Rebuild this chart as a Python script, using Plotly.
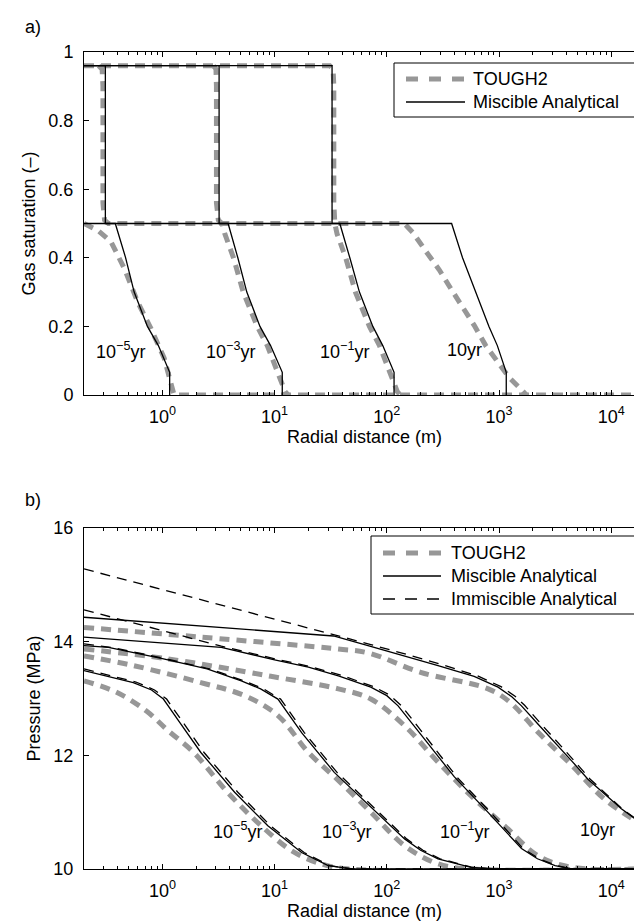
import numpy as np
import plotly.graph_objects as go

# ---------------- data: panel a) gas saturation ----------------
# Miscible analytical (black solid)
sat_r_mis_1e5 = [0.2, 0.31, 0.31, 0.38, 0.47, 0.56, 0.735, 0.92, 1.16, 1.16]
sat_s_mis_1e5 = [0.96, 0.96, 0.5, 0.5, 0.4, 0.3, 0.2, 0.144, 0.066, 0.0]
sat_r_mis_1e3 = [0.2, 3.2, 3.2, 3.85, 4.7, 5.65, 7.4, 9.2, 11.7, 11.7]
sat_s_mis_1e3 = [0.96, 0.96, 0.5, 0.5, 0.4, 0.3, 0.2, 0.144, 0.066, 0.0]
sat_r_mis_1e1 = [0.2, 32.5, 32.5, 38.1, 46.8, 57, 75, 92, 116, 116]
sat_s_mis_1e1 = [0.96, 0.96, 0.5, 0.5, 0.4, 0.3, 0.2, 0.144, 0.066, 0.0]
sat_r_mis_10 = [0.2, 378, 473, 620, 813, 966, 1160, 1160]
sat_s_mis_10 = [0.5, 0.5, 0.4, 0.3, 0.2, 0.144, 0.066, 0.0]

# TOUGH2 (grey dashed)
sat_r_t2_1e5 = [0.2, 0.265, 0.348, 0.457, 0.6, 0.787, 1.035, 1.185, 1.27, 20000]
sat_s_t2_1e5 = [0.5, 0.48, 0.447, 0.369, 0.272, 0.195, 0.108, 0.04, 0.0, 0.0]
sat_r_t2_1e3 = [2.85, 3.0, 3.03, 3.03, 3.15, 3.4, 3.6, 4.3, 5.25, 7.0, 8.6, 10.8, 11.8, 12.4, 13.2]
sat_s_t2_1e3 = [0.96, 0.95, 0.9, 0.56, 0.51, 0.5, 0.47, 0.4, 0.3, 0.2, 0.144, 0.066, 0.03, 0.01, 0.0]
sat_r_t2_1e1 = [0.2, 31, 33.2, 33.7, 33.7, 34.4, 36, 43, 52.5, 70, 86, 108, 118, 124, 132]
sat_s_t2_1e1 = [0.96, 0.96, 0.95, 0.9, 0.56, 0.5, 0.47, 0.4, 0.3, 0.2, 0.144, 0.066, 0.03, 0.01, 0.0]
sat_r_t2_10 = [0.27, 0.29, 0.295, 0.295, 0.305, 0.33, 143, 171, 223, 293, 372, 473, 601, 761, 966, 1230, 1620, 1750]
sat_s_t2_10 = [0.96, 0.95, 0.9, 0.56, 0.51, 0.5, 0.5, 0.473, 0.419, 0.365, 0.31, 0.257, 0.203, 0.144, 0.095, 0.051, 0.012, 0.0]

# ---------------- data: panel b) pressure (MPa) ----------------
p_r_t2_1e5 = [0.2, 0.39, 0.72, 1.1, 1.9, 3.8, 7.4, 14.5, 27, 46, 20000]
p_t2_1e5 = [13.31, 13.11, 12.78, 12.45, 12.05, 11.35, 10.78, 10.31, 10.08, 10.0, 10.0]
p_r_t2_1e3 = [0.2, 0.55, 2.2, 5.4, 10.7, 20, 36, 72, 144, 286, 562, 20000]
p_t2_1e3 = [13.75, 13.58, 13.28, 13.05, 12.7, 12.05, 11.58, 11.0, 10.41, 10.09, 10.0, 10.0]
p_r_t2_1e1 = [0.2, 1.1, 8.7, 37, 72, 144, 286, 562, 1120, 2240, 4470, 20000]
p_t2_1e1 = [13.87, 13.7, 13.4, 13.17, 12.99, 12.52, 11.88, 11.29, 10.76, 10.23, 10.03, 10.0]
p_r_t2_10 = [0.2, 2.2, 37, 69, 200, 800, 1260, 2240, 4470, 8700, 17400, 20000]
p_t2_10 = [14.25, 14.08, 13.87, 13.8, 13.46, 13.17, 12.93, 12.4, 11.82, 11.23, 10.82, 10.76]

p_r_mis_1e5 = [0.2, 0.55, 0.8, 1.02, 1.4, 2.2, 4.4, 8.7, 17.4, 30, 49, 20000]
p_mis_1e5 = [13.49, 13.28, 13.15, 12.99, 12.6, 12.05, 11.35, 10.76, 10.29, 10.06, 10.0, 10.0]
p_r_mis_1e3 = [0.2, 0.33, 1, 2.5, 5.05, 7.5, 10.7, 17.4, 34, 68, 144, 200, 286, 562, 900, 20000]
p_mis_1e3 = [13.93, 13.9, 13.7, 13.52, 13.31, 13.17, 12.99, 12.4, 11.7, 11.14, 10.53, 10.33, 10.18, 10.03, 10.0, 10.0]
p_r_mis_1e1 = [0.2, 3.35, 10, 20, 37, 72, 100, 126, 204, 400, 795, 1585, 2200, 3160, 4470, 20000]
p_mis_1e1 = [14.08, 13.9, 13.68, 13.55, 13.4, 13.2, 13.05, 12.87, 12.35, 11.62, 11.0, 10.36, 10.18, 10.06, 10.0, 10.0]
p_r_mis_10 = [0.2, 33.5, 68, 150, 286, 600, 980, 1300, 1585, 2200, 3160, 4500, 6200, 9000, 12300, 20000]
p_mis_10 = [14.43, 14.1, 13.93, 13.74, 13.58, 13.39, 13.2, 13.03, 12.87, 12.56, 12.23, 11.89, 11.58, 11.3, 11.06, 10.76]

p_r_imm_1e5 = [0.2, 0.58, 0.85, 1.09, 1.5, 2.35, 4.7, 9.2, 18.3, 31, 50, 20000]
p_imm_1e5 = [13.52, 13.29, 13.15, 12.99, 12.6, 12.05, 11.35, 10.76, 10.29, 10.06, 10.0, 10.0]
p_r_imm_1e3 = [0.2, 0.35, 1.06, 2.65, 5.35, 7.95, 11.3, 18.4, 36, 72, 150, 210, 298, 580, 920, 20000]
p_imm_1e3 = [13.96, 13.9, 13.7, 13.52, 13.31, 13.17, 12.99, 12.4, 11.7, 11.14, 10.53, 10.33, 10.18, 10.03, 10.0, 10.0]
p_r_imm_1e1 = [0.2, 3.35, 10.5, 21, 39, 76, 106, 134, 216, 420, 830, 1640, 2280, 3250, 4500, 20000]
p_imm_1e1 = [14.56, 13.92, 13.69, 13.56, 13.41, 13.21, 13.06, 12.88, 12.36, 11.62, 11.01, 10.36, 10.18, 10.06, 10.0, 10.0]
p_r_imm_10 = [0.2, 33.5, 72, 160, 305, 640, 1040, 1390, 1690, 2350, 3350, 4750, 6500, 9300, 12500, 20000]
p_imm_10 = [15.28, 14.13, 13.95, 13.76, 13.6, 13.4, 13.21, 13.04, 12.88, 12.56, 12.23, 11.89, 11.58, 11.3, 11.06, 10.76]

# time labels
time_labels = ["10<sup>\u22125</sup>yr", "10<sup>\u22123</sup>yr", "10<sup>\u22121</sup>yr", "10yr"]
label_r_a = [0.425, 4.05, 41.7, 490]
label_s_a = 0.13
label_r_b = [4.7, 44, 490, 7600]
label_p_b = 10.68

series_names = ["TOUGH2", "Miscible Analytical", "Immiscible Analytical"]

x_tick_vals = [1, 10, 100, 1000, 10000]
x_tick_text = ["10<sup>0</sup>", "10<sup>1</sup>", "10<sup>2</sup>", "10<sup>3</sup>", "10<sup>4</sup>"]
x_range = [0.2, 20000]

FONT = "Liberation Sans, Arial, sans-serif"
GREY = "#979797"
FS = 18

W, H = 642, 924
ML, MR, MT, MB = 76, 5, 44, 63
PW, PH = W - ML - MR, H - MT - MB
TOP_DOMAIN = [1 - 343 / PH, 1]
BOT_DOMAIN = [0, 341 / PH]

gray_style = dict(color=GREY, width=5, dash="10px,7px")
solid_style = dict(color="black", width=1.3)
dash_style = dict(color="black", width=1.3, dash="10px,7px")
legend_styles = [dict(color=GREY, width=5, dash="12px,11px"),
                 dict(color="black", width=1.3),
                 dict(color="black", width=1.3, dash="12px,10px")]

fig = go.Figure()

def add(x, y, name, style, xa, ya, shape="linear"):
    fig.add_trace(go.Scatter(x=x, y=y, mode="lines", name=name, line=dict(**style, shape=shape),
                             xaxis=xa, yaxis=ya, showlegend=False, hoverinfo="skip"))

# panel a
for r, s in [(sat_r_t2_1e5, sat_s_t2_1e5), (sat_r_t2_1e3, sat_s_t2_1e3),
             (sat_r_t2_1e1, sat_s_t2_1e1), (sat_r_t2_10, sat_s_t2_10)]:
    add(r, s, "TOUGH2", gray_style, "x", "y")
for r, s in [(sat_r_mis_1e5, sat_s_mis_1e5), (sat_r_mis_1e3, sat_s_mis_1e3),
             (sat_r_mis_1e1, sat_s_mis_1e1), (sat_r_mis_10, sat_s_mis_10)]:
    add(r, s, "Miscible Analytical", solid_style, "x", "y")

# panel b
for r, p in [(p_r_t2_1e5, p_t2_1e5), (p_r_t2_1e3, p_t2_1e3),
             (p_r_t2_1e1, p_t2_1e1), (p_r_t2_10, p_t2_10)]:
    add(r, p, "TOUGH2", gray_style, "x2", "y2", shape="spline")
for r, p in [(p_r_mis_1e5, p_mis_1e5), (p_r_mis_1e3, p_mis_1e3),
             (p_r_mis_1e1, p_mis_1e1), (p_r_mis_10, p_mis_10)]:
    add(r, p, "Miscible Analytical", solid_style, "x2", "y2")
for r, p in [(p_r_imm_1e5, p_imm_1e5), (p_r_imm_1e3, p_imm_1e3),
             (p_r_imm_1e1, p_imm_1e1), (p_r_imm_10, p_imm_10)]:
    add(r, p, "Immiscible Analytical", dash_style, "x2", "y2")

minor_vals = [k * 10.0 ** d for d in range(-1, 5) for k in range(2, 10)
              if x_range[0] <= k * 10.0 ** d <= x_range[1]]

xaxis_common = dict(type="log", range=[np.log10(x_range[0]), np.log10(x_range[1])],
                    tickvals=x_tick_vals, ticktext=x_tick_text, ticks="inside", ticklen=5,
                    tickwidth=1, tickcolor="black", showline=True, linecolor="black", linewidth=1,
                    mirror="ticks", showgrid=False, zeroline=False,
                    minor=dict(tickvals=minor_vals, ticks="inside", ticklen=3, tickcolor="black",
                               showgrid=False),
                    tickfont=dict(family=FONT, size=FS, color="black"),
                    title=dict(text="Radial distance (m)", font=dict(family=FONT, size=FS, color="black"),
                               standoff=2),
                    ticklabelstandoff=5, automargin=False)
yaxis_common = dict(ticks="inside", ticklen=5, tickwidth=1, tickcolor="black", showline=True,
                    linecolor="black", linewidth=1, mirror="ticks", showgrid=False, zeroline=False,
                    tickfont=dict(family=FONT, size=FS, color="black"), ticklabelstandoff=6,
                    automargin=False)

fig.update_layout(
    width=W, height=H,
    margin=dict(l=ML, r=MR, t=MT, b=MB),
    paper_bgcolor="white", plot_bgcolor="white",
    font=dict(family=FONT, size=FS, color="black"),
    xaxis=dict(**xaxis_common, anchor="y", domain=[0, 1]),
    yaxis=dict(**yaxis_common, anchor="x", domain=TOP_DOMAIN, range=[0, 1],
               tickvals=[0, 0.2, 0.4, 0.6, 0.8, 1],
               title=dict(text="Gas saturation (\u2013)", font=dict(family=FONT, size=FS), standoff=8)),
    xaxis2=dict(**xaxis_common, anchor="y2", domain=[0, 1]),
    yaxis2=dict(**yaxis_common, anchor="x2", domain=BOT_DOMAIN, range=[10, 16],
                tickvals=[10, 12, 14, 16],
                title=dict(text="Pressure (MPa)", font=dict(family=FONT, size=FS), standoff=8)),
    showlegend=False,
)

def px(xp):
    return (xp - ML) / PW

def py(yp):
    return (H - MB - yp) / PH

shapes = []
annotations = []

# legend boxes drawn as shapes + text (box px, rows, sample x-range, text x)
legend_specs = [
    dict(box=(386, 55, 629, 109), rows=[71, 94], sample=(398, 457), text_x=463, n=2),
    dict(box=(363, 528, 633, 606), rows=[545, 568, 591], sample=(375, 433), text_x=441, n=3),
]
for spec in legend_specs:
    x0, y0, x1, y1 = spec["box"]
    shapes.append(dict(type="rect", xref="paper", yref="paper", x0=px(x0), x1=px(x1),
                       y0=py(y1), y1=py(y0), line=dict(color="black", width=1), fillcolor="white",
                       layer="above"))
    for i in range(spec["n"]):
        yr = spec["rows"][i]
        shapes.append(dict(type="line", xref="paper", yref="paper", x0=px(spec["sample"][0]),
                           x1=px(spec["sample"][1]), y0=py(yr), y1=py(yr), line=legend_styles[i],
                           layer="above"))
        annotations.append(dict(x=px(spec["text_x"]), y=py(yr), xref="paper", yref="paper",
                                text=series_names[i], showarrow=False, xanchor="left",
                                yanchor="middle", font=dict(family=FONT, size=FS)))

for txt, r in zip(time_labels, label_r_a):
    annotations.append(dict(x=np.log10(r), y=label_s_a, xref="x", yref="y", text=txt,
                            showarrow=False, font=dict(family=FONT, size=FS)))
for txt, r in zip(time_labels, label_r_b):
    annotations.append(dict(x=np.log10(r), y=label_p_b, xref="x2", yref="y2", text=txt,
                            showarrow=False, font=dict(family=FONT, size=FS)))
annotations.append(dict(x=px(15), y=py(19), xref="paper", yref="paper", text="a)", showarrow=False,
                        xanchor="left", yanchor="middle", font=dict(family=FONT, size=FS)))
annotations.append(dict(x=px(15), y=py(492), xref="paper", yref="paper", text="b)", showarrow=False,
                        xanchor="left", yanchor="middle", font=dict(family=FONT, size=FS)))
fig.update_layout(shapes=shapes, annotations=annotations)

fig.write_html("out.html")
